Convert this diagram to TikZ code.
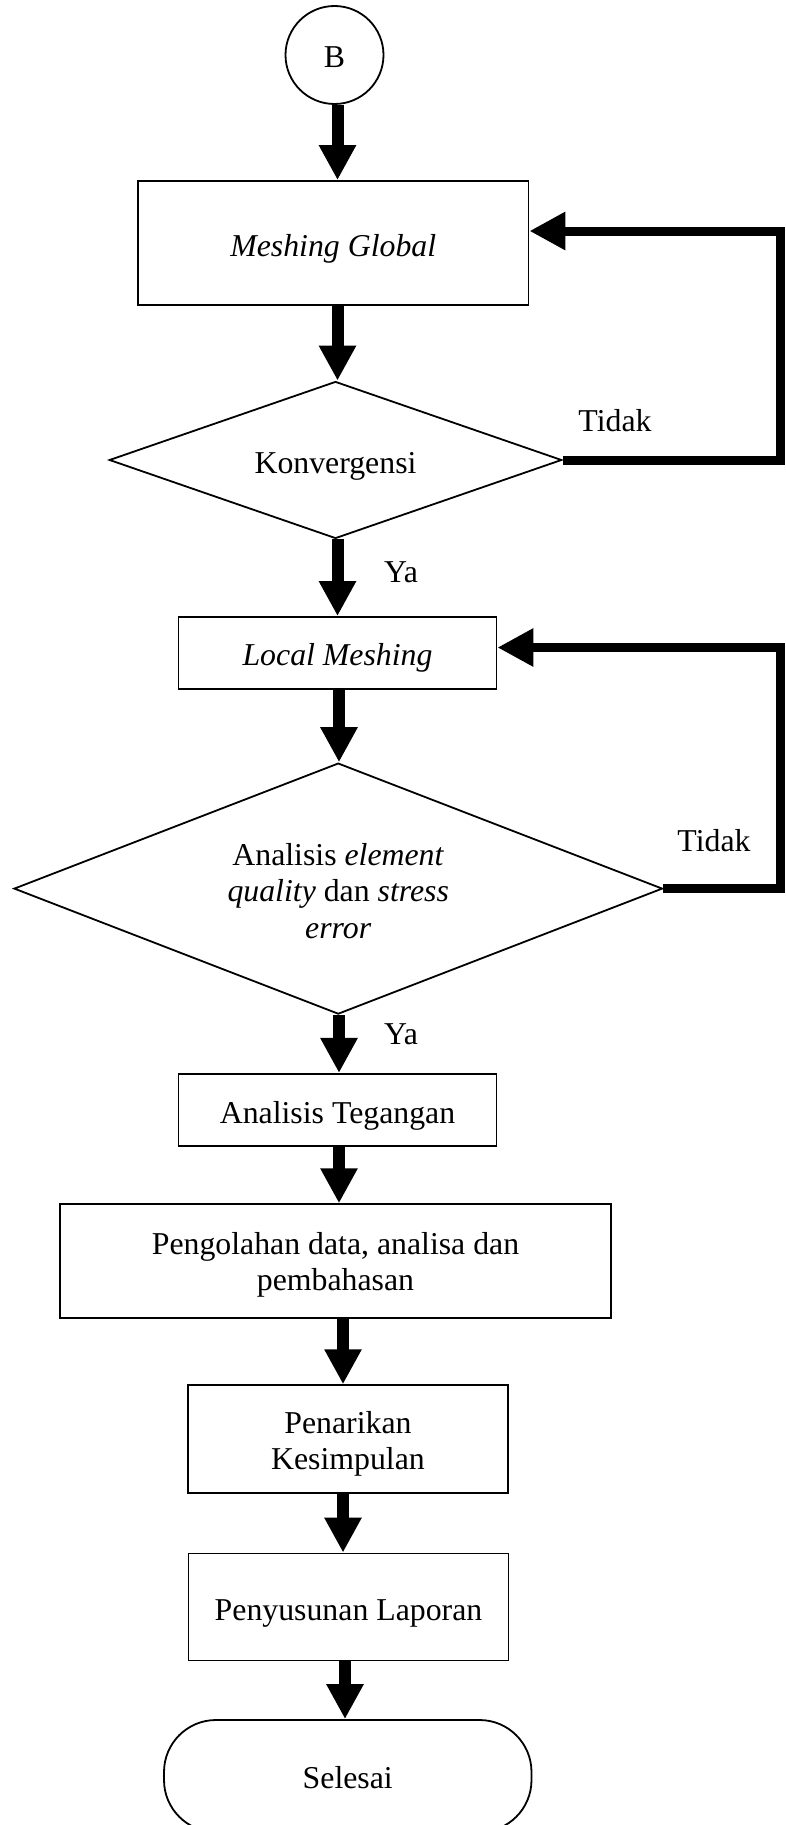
\documentclass[tikz,border=0pt]{standalone}
\usepackage{fontspec}
\setmainfont{Liberation Serif}
\usetikzlibrary{shapes.geometric,arrows.meta}
\newcommand\txtdn[2][6pt]{\raisebox{-#1}[\height][\depth]{#2}}
\newcommand\lines[1]{\begin{tabular}{@{}c@{}}#1\end{tabular}}
\begin{document}
\begin{tikzpicture}[x=1pt,y=-1pt,
  every node/.style={font=\fontsize{31.8pt}{36.5pt}\selectfont},
  box/.style={draw, line width=1.8pt, rectangle, inner sep=0pt, align=center},
  dec/.style={draw, line width=1.8pt, diamond, inner sep=0pt, align=center},
  flow/.style={line width=12pt, -{Triangle[width=35pt,length=35pt]}},
  fb/.style={line width=9pt, -{Triangle[width=36pt,length=36pt]}},
  lbl/.style={inner sep=0pt}]
\useasboundingbox (0,0) rectangle (785,1825);
\clip (0,0) rectangle (785,1825);

\node[draw, circle, line width=1.8pt, minimum size=98pt, inner sep=0pt] (B) at (334.5,55) {\txtdn[2pt]{B}};
\node[box, minimum width=390.5pt, minimum height=124pt] (mg) at (333.25,243) {\txtdn{\textit{Meshing Global}}};
\node[dec, aspect=2.88, minimum width=452.5pt, minimum height=157pt] (d1) at (335.5,460) {\txtdn{Konvergensi}};
\node[box, minimum width=318pt, minimum height=72pt] (lm) at (337.5,653) {\txtdn[5pt]{\textit{Local Meshing}}};
\node[dec, aspect=2.58, minimum width=648.5pt, minimum height=251pt] (d2) at (338.25,888.6) {\txtdn{\lines{Analisis \textit{element}\\\textit{quality} dan \textit{stress}\\\textit{error}}}};
\node[box, minimum width=318pt, minimum height=72.3pt] (at) at (337.5,1110) {\txtdn{Analisis Tegangan}};
\node[box, minimum width=551pt, minimum height=113.6pt] (pg) at (335.5,1261) {\txtdn[4pt]{\lines{Pengolahan data, analisa dan\\pembahasan}}};
\node[box, minimum width=320pt, minimum height=107.7pt] (pk) at (348,1439) {\txtdn[5pt]{\lines{Penarikan\\Kesimpulan}}};
\node[box, minimum width=320pt, minimum height=107pt] (pl) at (348.5,1607) {\txtdn[7pt]{Penyusunan Laporan}};
\node[box, rounded corners=52pt, minimum width=367.5pt, minimum height=112pt] (sl) at (347.75,1776) {\txtdn[2pt]{Selesai}};

\node[lbl] (t1) at (615,421) {Tidak};
\node[lbl] (y1) at (401,572) {Ya};
\node[lbl] (t2) at (714,841) {Tidak};
\node[lbl] (y2) at (401,1034) {Ya};

\coordinate (ax1) at (337.5,0);
\coordinate (ax2) at (339,0);
\coordinate (ax3) at (343,0);
\coordinate (ax4) at (345,0);

\draw[flow] (B.south -| ax1) -- (mg.north -| ax1);
\draw[flow] (mg.south -| ax1) -- (d1.north -| ax1);
\draw[flow] (d1.south -| ax1) -- (lm.north -| ax1);
\draw[flow] (lm.south -| ax2) -- (d2.north -| ax2);
\draw[flow] (d2.south -| ax2) -- (at.north -| ax2);
\draw[flow] (at.south -| ax2) -- (pg.north -| ax2);
\draw[flow] (pg.south -| ax3) -- (pk.north -| ax3);
\draw[flow] (pk.south -| ax3) -- (pl.north -| ax3);
\draw[flow] (pl.south -| ax4) -- (sl.north -| ax4);

\coordinate (r1) at (780,231);
\draw[fb] (d1.east) -| (r1) -- (r1 -| mg.east);
\coordinate (r2) at (780,647.5);
\draw[fb] (d2.east) -| (r2) -- (r2 -| lm.east);
\end{tikzpicture}
\end{document}
